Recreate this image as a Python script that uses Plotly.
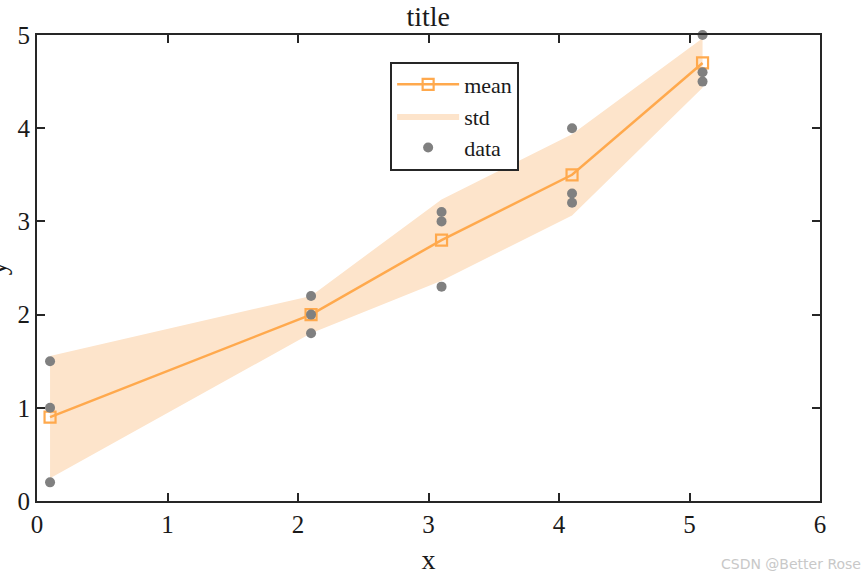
import plotly.graph_objects as go

# data
x_groups = [0.1, 2.1, 3.1, 4.1, 5.1]
data_x = [0.1, 0.1, 0.1, 2.1, 2.1, 2.1, 3.1, 3.1, 3.1, 4.1, 4.1, 4.1, 5.1, 5.1, 5.1]
data_y = [1.5, 1.0, 0.2, 2.2, 2.0, 1.8, 3.1, 3.0, 2.3, 4.0, 3.3, 3.2, 5.0, 4.6, 4.5]
mean_y = [0.9, 2.0, 2.8, 3.5, 4.7]
std_y = [0.656, 0.2, 0.436, 0.436, 0.265]
x_ticks = [0, 1, 2, 3, 4, 5, 6]
y_ticks = [0, 1, 2, 3, 4, 5]

upper = [m + s for m, s in zip(mean_y, std_y)]
lower = [m - s for m, s in zip(mean_y, std_y)]

ORANGE = "#FFA94D"
FILL = "#FDE4CB"
GRAY = "#808080"
AX = "#262626"
FONT = "Liberation Serif"

fig = go.Figure()
fig.add_trace(go.Scatter(
    x=x_groups + x_groups[::-1], y=upper + lower[::-1],
    fill="toself", fillcolor=FILL, line=dict(width=0, color=FILL),
    mode="lines", name="std", legendrank=2, hoverinfo="skip"))
fig.add_trace(go.Scatter(
    x=x_groups, y=mean_y, mode="lines+markers", name="mean", legendrank=1,
    line=dict(color=ORANGE, width=2.5),
    marker=dict(symbol="square-open", size=11, color=ORANGE, line=dict(width=2.2, color=ORANGE))))
fig.add_trace(go.Scatter(
    x=data_x, y=data_y, mode="markers", name="data", legendrank=3,
    marker=dict(symbol="circle", size=10, color=GRAY), cliponaxis=False))

axis_common = dict(
    showgrid=False, zeroline=False, showline=True, linecolor=AX, linewidth=2,
    mirror="ticks", ticks="inside", ticklen=8, tickwidth=2, tickcolor=AX,
    automargin=False,
    tickfont=dict(family=FONT, size=25, color="#1a1a1a"))

fig.update_layout(
    width=865, height=577,
    margin=dict(l=37, r=45, t=35, b=76),
    plot_bgcolor="white", paper_bgcolor="white",
    font=dict(family=FONT, color="#1a1a1a"),
    title=dict(text="title", x=0.495, xanchor="center", y=0.972, yanchor="middle",
               font=dict(family=FONT, size=28, color="#1a1a1a")),
    xaxis=dict(range=[0, 6], tickvals=x_ticks, **axis_common,
               title=dict(text="x", font=dict(family=FONT, size=28), standoff=12)),
    yaxis=dict(range=[0, 5], tickvals=y_ticks, **axis_common),
    showlegend=True,
    legend=dict(x=0.451, y=0.943, xanchor="left", yanchor="top",
                bordercolor=AX, borderwidth=2, bgcolor="white",
                font=dict(family=FONT, size=22, color="#1a1a1a"),
                tracegroupgap=0, itemwidth=62),
)

fig.add_annotation(text="y", xref="paper", yref="paper", x=-0.052, y=0.5,
                   xanchor="center", yanchor="middle", textangle=-90, showarrow=False,
                   font=dict(family=FONT, size=28, color="#1a1a1a"))
fig.add_annotation(text="CSDN @Better Rose", xref="paper", yref="paper",
                   x=1.055, y=-0.135, xanchor="right", yanchor="middle", showarrow=False,
                   font=dict(family="DejaVu Sans", size=14, color="#c8c8c8"))

fig.write_html("out.html")
